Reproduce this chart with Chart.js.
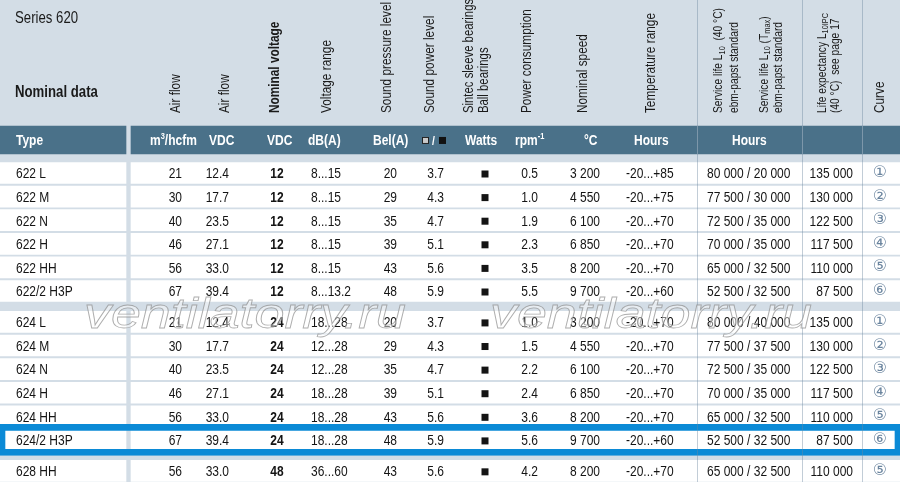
<!DOCTYPE html>
<html>
<head>
<meta charset="utf-8">
<title>Series 620 – Nominal data</title>
<script src="https://cdn.jsdelivr.net/npm/chart.js@4.4.1/dist/chart.umd.min.js"></script>
<style>
  html, body { margin: 0; padding: 0; background: #d3dde6; overflow: hidden; }
  #wrap { width: 900px; height: 482px; }
</style>
</head>
<body>
<div id="wrap"><canvas id="table620" width="900" height="482"></canvas></div>
<script>
// ---- table data ----
const types = ["622 L", "622 M", "622 N", "622 H", "622 HH", "622/2 H3P",
               "624 L", "624 M", "624 N", "624 H", "624 HH", "624/2 H3P", "628 HH"];
const groups = [0, 0, 0, 0, 0, 0, 1, 1, 1, 1, 1, 1, 2];
const airflowM3h = [21, 30, 40, 46, 56, 67, 21, 30, 40, 46, 56, 67, 56];
const airflowCfm = [12.4, 17.7, 23.5, 27.1, 33.0, 39.4, 12.4, 17.7, 23.5, 27.1, 33.0, 39.4, 33.0];
const nominalVoltage = [12, 12, 12, 12, 12, 12, 24, 24, 24, 24, 24, 24, 48];
const voltageRange = ["8...15", "8...15", "8...15", "8...15", "8...15", "8...13.2",
                      "18...28", "12...28", "12...28", "18...28", "18...28", "18...28", "36...60"];
const soundPressure = [20, 29, 35, 39, 43, 48, 20, 29, 35, 39, 43, 48, 43];
const soundPower = [3.7, 4.3, 4.7, 5.1, 5.6, 5.9, 3.7, 4.3, 4.7, 5.1, 5.6, 5.9, 5.6];
const ballBearing = [1, 1, 1, 1, 1, 1, 1, 1, 1, 1, 1, 1, 1];
const powerW = [0.5, 1.0, 1.9, 2.3, 3.5, 5.5, 1.0, 1.5, 2.2, 2.4, 3.6, 5.6, 4.2];
const speedRpm = [3200, 4550, 6100, 6850, 8200, 9700, 3200, 4550, 6100, 6850, 8200, 9700, 8200];
const tempMin = [-20, -20, -20, -20, -20, -20, -20, -20, -20, -20, -20, -20, -20];
const tempMax = [85, 75, 70, 70, 70, 60, 70, 70, 70, 70, 70, 60, 70];
const serviceLife40 = [80000, 77500, 72500, 70000, 65000, 52500, 80000, 77500, 72500, 70000, 65000, 52500, 65000];
const serviceLifeTmax = [20000, 30000, 35000, 35000, 32500, 32500, 40000, 37500, 35000, 35000, 32500, 32500, 32500];
const lifeExpectancy = [135000, 130000, 122500, 117500, 110000, 87500, 135000, 130000, 122500, 117500, 110000, 87500, 110000];
const curveNo = [1, 2, 3, 4, 5, 6, 1, 2, 3, 4, 5, 6, 5];
const highlightRow = 11;

// header texts (_{..} = subscript, ^{..} = superscript)
const seriesTitle = "Series 620";
const blockTitle = "Nominal data";
const columnTitles = [
  ["Air flow"], ["Air flow"], ["Nominal voltage"], ["Voltage range"],
  ["Sound pressure level"], ["Sound power level"],
  ["Sintec sleeve bearings", "Ball bearings"], ["Power consumption"], ["Nominal speed"],
  ["Temperature range"],
  ["Service life L_{10}  (40 °C)", "ebm-papst standard"],
  ["Service life L_{10} (T_{max})", "ebm-papst standard"],
  ["Life expectancy L_{10IPC}", "(40 °C)  see page 17"],
  ["Curve"]
];
const unitLabels = ["Type", "m^{3}/hcfm", "VDC", "VDC", "dB(A)", "Bel(A)", "", "Watts", "rpm^{-1}", "°C", "Hours", "Hours"];

// ---- layout (pixels / row units, not data) ----
const FONT = "'Liberation Sans', Arial, sans-serif";
const NARROW = 0.8;               // condensed look: squeeze text horizontally
const ROW_PX = 23.6;
const FIRST_ROW_PX = 173;
const GROUP_GAP = 0.31;           // extra space between fan groups, in rows
const Y_MIN = -FIRST_ROW_PX / ROW_PX;
const Y_MAX = Y_MIN + 482 / ROW_PX;
const BAND_ROW = -1.4;            // dark units band
const HEADER_BASE_ROW = -2.54;    // where the rotated titles start
const titleLayout = [
  { x: [180], size: 14.8 }, { x: [229], size: 14.8 }, { x: [279], size: 14.8, bold: true },
  { x: [331], size: 14.8 }, { x: [391], size: 14.8 }, { x: [434], size: 14.8 },
  { x: [473, 488], size: 14.2 }, { x: [531], size: 14.8 }, { x: [587], size: 14.8 },
  { x: [655], size: 14.8 },
  { x: [722, 737.5], size: 12.8 }, { x: [767.5, 781.5], size: 12.8 }, { x: [825.5, 838.5], size: 12.8 },
  { x: [884], size: 14.8 }
];
const unitX = [16, 150, 209, 267, 308, 373, 422, 465, 515, 584, 634, 732];
const dividerX = [697.5, 802.5, 862.5];

const rowValues = types.map((t, i) => i + groups[i] * GROUP_GAP);

function spaced(n) {
  return String(n).replace(/\B(?=(\d{3})+(?!\d))/g, " ");
}

// cell columns: text per row, anchor x, alignment
const cellColumns = [
  { text: types, x: 16, align: "left" },
  { text: airflowM3h.map(String), x: 182, align: "right" },
  { text: airflowCfm.map(v => v.toFixed(1)), x: 229, align: "right" },
  { text: nominalVoltage.map(String), x: 277, align: "center", bold: true },
  { text: voltageRange, x: 311, align: "left" },
  { text: soundPressure.map(String), x: 397, align: "right" },
  { text: soundPower.map(v => v.toFixed(1)), x: 444, align: "right" },
  { text: powerW.map(v => v.toFixed(1)), x: 538, align: "right" },
  { text: speedRpm.map(spaced), x: 600, align: "right" },
  { text: tempMin.map((v, i) => v + "...+" + tempMax[i]), x: 626, align: "left" },
  { text: serviceLife40.map((v, i) => spaced(v) + " / " + spaced(serviceLifeTmax[i])), x: 707, align: "left" },
  { text: lifeExpectancy.map(spaced), x: 853, align: "right" }
];

// narrow text at (x, y); ctx may already be rotated
function narrowText(ctx, txt, x, y) {
  ctx.save();
  ctx.translate(x, y);
  ctx.scale(NARROW, 1);
  ctx.fillText(txt, 0, 0);
  ctx.restore();
}

function drawRich(ctx, str, x0, y0, size, weight) {
  const parts = str.split(/([_^]\{[^}]*\})/).filter(Boolean);
  ctx.save();
  ctx.translate(x0, y0);
  ctx.scale(NARROW, 1);
  ctx.textAlign = "left";
  let cx = 0;
  for (const p of parts) {
    let txt = p, s = size, dy = 0;
    if (p.startsWith("_{")) { txt = p.slice(2, -1); s = size * 0.72; dy = size * 0.22; }
    else if (p.startsWith("^{")) { txt = p.slice(2, -1); s = size * 0.62; dy = -size * 0.4; }
    ctx.font = `${weight} ${s}px ${FONT}`;
    ctx.fillText(txt, cx, dy);
    cx += ctx.measureText(txt).width;
  }
  ctx.restore();
}

const tablePlugin = {
  id: "tableText",
  afterDatasetsDraw(chart) {
    const { ctx, chartArea } = chart;
    const x = chart.scales.x, y = chart.scales.y;
    ctx.save();

    // column dividers
    const bandTop = y.getPixelForValue(BAND_ROW) - 14;
    ctx.lineWidth = 1;
    dividerX.forEach(dx => {
      const px = x.getPixelForValue(dx);
      ctx.strokeStyle = "rgba(110,135,160,0.42)";
      ctx.beginPath();
      ctx.moveTo(px, chartArea.top);
      ctx.lineTo(px, chartArea.bottom);
      ctx.stroke();
      ctx.strokeStyle = "rgba(255,255,255,0.22)";
      ctx.beginPath();
      ctx.moveTo(px, bandTop);
      ctx.lineTo(px, bandTop + 28);
      ctx.stroke();
    });

    // titles
    ctx.fillStyle = "#1a1a1a";
    ctx.textAlign = "left";
    ctx.textBaseline = "alphabetic";
    ctx.font = `400 16.5px ${FONT}`;
    narrowText(ctx, seriesTitle, x.getPixelForValue(15), 23);
    ctx.font = `700 16.5px ${FONT}`;
    narrowText(ctx, blockTitle, x.getPixelForValue(15), 97);

    // rotated column titles
    const headBase = y.getPixelForValue(HEADER_BASE_ROW);
    columnTitles.forEach((lines, c) => {
      const lay = titleLayout[c];
      lines.forEach((line, k) => {
        ctx.save();
        ctx.translate(x.getPixelForValue(lay.x[k]), headBase);
        ctx.rotate(-Math.PI / 2);
        drawRich(ctx, line, 0, 0, lay.size, lay.bold ? 700 : 400);
        ctx.restore();
      });
    });

    // units band
    const bandBase = y.getPixelForValue(BAND_ROW) + 5;
    ctx.fillStyle = "#ffffff";
    unitLabels.forEach((u, c) => {
      if (u) drawRich(ctx, u, x.getPixelForValue(unitX[c]), bandBase, 15, 700);
    });
    // sleeve / ball bearing key
    const kx = x.getPixelForValue(unitX[6]);
    const ky = y.getPixelForValue(BAND_ROW);
    ctx.fillStyle = "#c9c9c9";
    ctx.fillRect(kx, ky - 3, 7, 7);
    ctx.strokeStyle = "#222";
    ctx.strokeRect(kx + 0.5, ky - 2.5, 6, 6);
    ctx.fillStyle = "#ffffff";
    ctx.font = `700 13px ${FONT}`;
    narrowText(ctx, "/", kx + 10, bandBase);
    ctx.fillStyle = "#111";
    ctx.fillRect(kx + 17, ky - 3, 7, 7);

    // body cells
    ctx.fillStyle = "#141414";
    rowValues.forEach((rv, r) => {
      const py = y.getPixelForValue(rv);
      cellColumns.forEach(col => {
        ctx.font = `${col.bold ? 700 : 400} 15px ${FONT}`;
        ctx.textAlign = col.align;
        narrowText(ctx, col.text[r], x.getPixelForValue(col.x), py + 5.3);
      });
      if (ballBearing[r]) {
        ctx.fillRect(x.getPixelForValue(481.5), py - 2.5, 7, 7);
      }
    });

    // curve numbers
    ctx.fillStyle = "#6a849e";
    ctx.textAlign = "center";
    ctx.font = "400 16px 'DejaVu Sans', sans-serif";
    rowValues.forEach((rv, r) => {
      ctx.fillText(String.fromCharCode(0x245f + curveNo[r]), x.getPixelForValue(880), y.getPixelForValue(rv) + 4);
    });
    ctx.restore();
  },
  afterDraw(chart) {
    // site watermark over the table
    const { ctx } = chart;
    const x = chart.scales.x, y = chart.scales.y;
    const base = y.getPixelForValue(rowValues[6]) + 6.5;
    ctx.save();
    ctx.font = "italic 43px 'Liberation Sans', Arial, sans-serif";
    ctx.textAlign = "left";
    ctx.textBaseline = "alphabetic";
    const mark = "ventilatorry.ru";
    const sx = 322 / ctx.measureText(mark).width;
    [84, 490].forEach(mx => {
      ctx.save();
      ctx.translate(x.getPixelForValue(mx), base);
      ctx.scale(sx, 1);
      ctx.fillStyle = "rgba(255,255,255,0.45)";
      ctx.fillText(mark, 0, 0);
      ctx.strokeStyle = "rgba(140,140,140,0.7)";
      ctx.lineWidth = 0.8;
      ctx.strokeText(mark, 0, 0);
      ctx.restore();
    });
    ctx.restore();
  }
};

new Chart(document.getElementById("table620"), {
  type: "bar",
  data: {
    datasets: [
      {
        label: "highlight",
        data: [{ x: [0, 900], y: rowValues[highlightRow] }],
        backgroundColor: "rgba(0,0,0,0)",
        borderColor: "#0b8ad6",
        borderWidth: { top: 6, bottom: 6, left: 5, right: 5 },
        borderSkipped: false,
        barThickness: 31
      },
      {
        label: "units band",
        data: [{ x: [0, 126], y: BAND_ROW }, { x: [131, 900], y: BAND_ROW }],
        backgroundColor: "#4a7189",
        barThickness: 28
      },
      {
        label: "type cells",
        data: rowValues.map(v => ({ x: [0, 126], y: v })),
        backgroundColor: "#ffffff",
        barThickness: 21
      },
      {
        label: "value cells",
        data: rowValues.map(v => ({ x: [131, 900], y: v })),
        backgroundColor: "#ffffff",
        barThickness: 21
      }
    ]
  },
  options: {
    indexAxis: "y",
    responsive: false,
    animation: false,
    events: [],
    layout: { padding: 0 },
    datasets: { bar: { grouped: false } },
    plugins: { legend: { display: false }, tooltip: { enabled: false } },
    scales: {
      x: { type: "linear", min: 0, max: 900, display: false, offset: false },
      y: { type: "linear", min: Y_MIN, max: Y_MAX, reverse: true, display: false, offset: false }
    }
  },
  plugins: [tablePlugin]
});
</script>
</body>
</html>
